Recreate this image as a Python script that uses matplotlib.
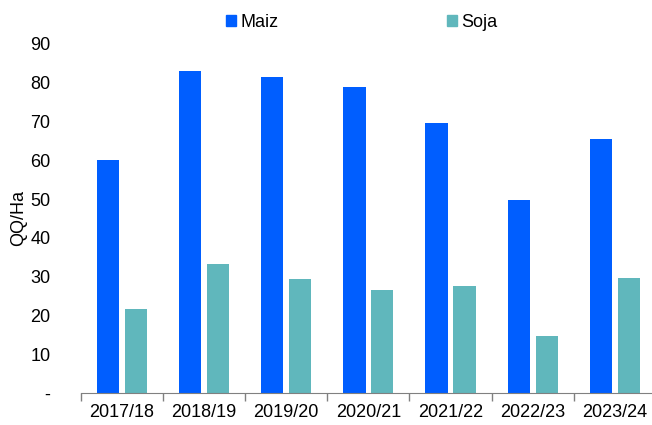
import numpy as np
import matplotlib
matplotlib.use("Agg")
import matplotlib.pyplot as plt
from matplotlib.patches import Patch

plt.rcParams['font.family'] = ['Liberation Sans', 'DejaVu Sans']

campanias = ["2017/18", "2018/19", "2019/20", "2020/21", "2021/22", "2022/23", "2023/24"]
maiz = [60.0, 83.0, 81.5, 79.0, 69.6, 49.8, 65.5]
soja = [21.7, 33.3, 29.4, 26.6, 27.7, 14.8, 29.7]

col_maiz = "#005EFF"
col_soja = "#60B7BC"

fig = plt.figure(figsize=(6.52, 4.25), dpi=100)
ax = fig.add_axes([0.124, 0.0753, 0.882, 0.8212])

x = np.arange(len(campanias))
ancho = 0.27
ax.bar(x - 0.17, maiz, ancho, color=col_maiz)
ax.bar(x + 0.17, soja, ancho, color=col_soja)

ax.set_xlim(-0.5, len(campanias) - 0.5)
ax.set_ylim(0, 90)
ax.set_yticks(range(0, 91, 10))
ax.set_yticklabels(["-"] + [str(v) for v in range(10, 91, 10)])
ax.set_xticks(x)
ax.set_xticklabels(campanias)
ax.set_xticks(np.arange(-0.5, len(campanias), 1), minor=True)
ax.tick_params(axis="x", which="major", length=0, pad=8, labelsize=13)
ax.tick_params(axis="x", which="minor", length=6, color="#808080", width=1)
ax.tick_params(axis="y", length=0, pad=22, labelsize=13)
for lbl in ax.get_yticklabels():
    lbl.set_horizontalalignment("right")

for s in ["top", "right", "left"]:
    ax.spines[s].set_visible(False)
ax.spines["bottom"].set_color("#808080")

ax.set_ylabel("QQ/Ha", fontsize=13, labelpad=2)

handles = [Patch(color=col_maiz), Patch(color=col_soja)]
fig.legend(handles, ["Maiz", "Soja"], loc="center", bbox_to_anchor=(0.555, 0.948),
           ncol=2, frameon=False, fontsize=13, handlelength=0.55, handleheight=0.6,
           handletextpad=0.25, columnspacing=9.3)

fig.savefig("out.png", dpi=100)
